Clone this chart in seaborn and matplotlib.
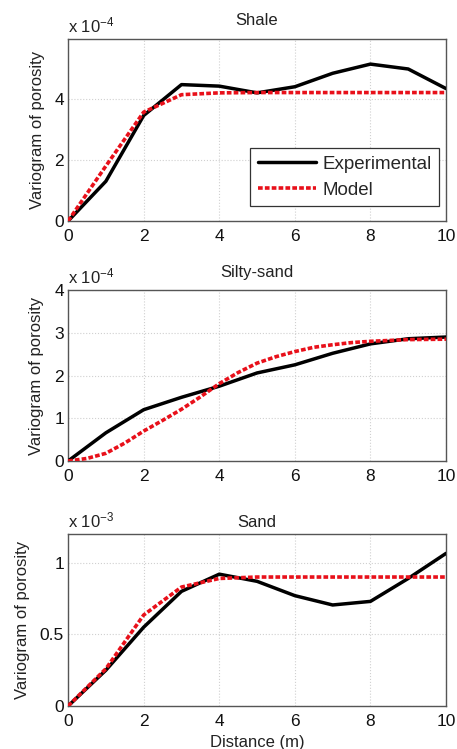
import numpy as np
import pandas as pd
import matplotlib
matplotlib.use('Agg')
import matplotlib.pyplot as plt
import seaborn as sns

# lag distances (m)
distance = [0, 1, 2, 3, 4, 5, 6, 7, 8, 9, 10]

# values are given in units of the panel's scale factor
shale_exp = [0, 1.3, 3.45, 4.46, 4.41, 4.19, 4.39, 4.83, 5.13, 4.97, 4.33]
shale_model = [0, 1.8, 3.56, 4.13, 4.19, 4.2, 4.2, 4.2, 4.2, 4.2, 4.2]

silty_exp = [0, 0.66, 1.2, 1.49, 1.75, 2.06, 2.25, 2.52, 2.74, 2.86, 2.9]
silty_model_x = [0, 0.5, 1, 1.5, 2, 2.5, 3, 3.5, 4, 4.5, 5, 5.5, 6, 6.5, 7, 7.5, 8, 9, 10]
silty_model = [0, 0.06, 0.18, 0.42, 0.7, 0.95, 1.21, 1.5, 1.81, 2.07, 2.29, 2.44, 2.56, 2.66, 2.72, 2.77, 2.8, 2.84, 2.85]

sand_exp = [0, 0.25, 0.55, 0.8, 0.92, 0.87, 0.77, 0.705, 0.73, 0.89, 1.065]
sand_model = [0, 0.26, 0.635, 0.83, 0.89, 0.9, 0.9, 0.9, 0.9, 0.9, 0.9]

titles = ['Shale', 'Silty-sand', 'Sand']
exponents = ['-4', '-4', '-3']
ylims = [(0, 5.95), (0, 4), (0, 1.2)]
yticks = [[0, 2, 4], [0, 1, 2, 3, 4], [0, 0.5, 1]]
yticklabels = [['0', '2', '4'], ['0', '1', '2', '3', '4'], ['0', '0.5', '1']]

sns.set_theme(style='white')
plt.rcParams['font.family'] = ['Liberation Sans', 'DejaVu Sans']
plt.rcParams['mathtext.fontset'] = 'custom'
plt.rcParams['mathtext.rm'] = 'Liberation Sans'
plt.rcParams['mathtext.it'] = 'Liberation Sans'

fig = plt.figure(figsize=(4.57, 7.49), dpi=100)
left, width = 0.149, 0.827
boxes = [(0.7049, 0.243), (0.3845, 0.2283), (0.0574, 0.2296)]
title_pads = [10, 9.4, 5]

panels = [
    (distance, shale_exp, distance, shale_model),
    (distance, silty_exp, silty_model_x, silty_model),
    (distance, sand_exp, distance, sand_model),
]

for i, (xe, ye, xm, ym) in enumerate(panels):
    bottom, height = boxes[i]
    ax = fig.add_axes([left, bottom, width, height])
    exp_df = pd.DataFrame({'x': xe, 'y': ye})
    mod_df = pd.DataFrame({'x': xm, 'y': ym})
    sns.lineplot(data=exp_df, x='x', y='y', ax=ax, color='black', lw=2.5,
                 label='Experimental', zorder=3)
    sns.lineplot(data=mod_df, x='x', y='y', ax=ax, color='#e8101a', lw=2.6,
                 label='Model', zorder=4)
    ax.lines[1].set_linestyle((0, (1.3, 0.6)))
    ax.set_xlim(0, 10)
    ax.set_ylim(*ylims[i])
    ax.set_xticks([0, 2, 4, 6, 8, 10])
    ax.set_yticks(yticks[i])
    ax.set_yticklabels(yticklabels[i])
    ax.grid(True, color='#d0d0d0', linestyle=':', linewidth=0.8)
    for sp in ax.spines.values():
        sp.set_color('#555555')
        sp.set_linewidth(1.0)
    ax.tick_params(direction='in', length=3, width=0.8, colors='#555555',
                   labelcolor='#111111', labelsize=12.5, pad=3)
    ax.tick_params(axis='x', pad=5.5)
    ax.set_title(titles[i], fontsize=12, pad=title_pads[i], color='#222222')
    ax.text(0.0, 1.02, r'x 10$^{%s}$' % exponents[i], transform=ax.transAxes,
            fontsize=12, ha='left', va='bottom', color='#222222')
    ax.set_ylabel('Variogram of porosity', fontsize=12, labelpad=7, color='#222222')
    ax.set_xlabel('Distance (m)' if i == 2 else '', fontsize=12, labelpad=4.5,
                  color='#222222')
    if i == 0:
        leg = ax.legend(loc='lower right', bbox_to_anchor=(0.981, 0.082),
                        borderaxespad=0, fontsize=13.5, frameon=True, fancybox=False,
                        handlelength=3.1, labelspacing=0.45, borderpad=0.4,
                        handletextpad=0.32)
        leg.get_frame().set_edgecolor('#333333')
        leg.get_frame().set_linewidth(0.9)
        leg.get_frame().set_alpha(1)
    else:
        ax.get_legend().remove()

fig.savefig('out.png', dpi=100)
